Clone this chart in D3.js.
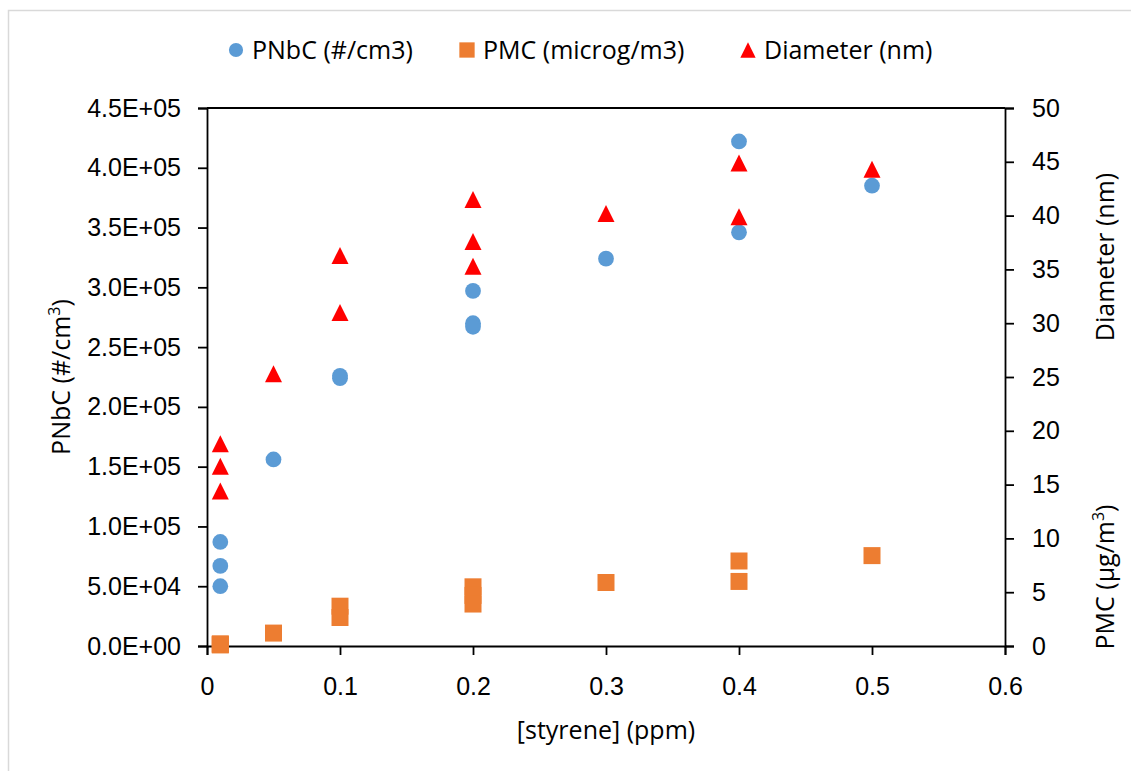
<!DOCTYPE html>
<html>
<head>
<meta charset="utf-8">
<script src="https://cdn.jsdelivr.net/npm/d3@7"></script>
<style>
  body { margin: 0; background: #fff; }
  svg { font-family: "Open Sans", Lato, sans-serif; }
</style>
</head>
<body>
<svg id="chart"></svg>
<script>
// styrene concentration (ppm) for each measurement
const pnbcX = [0.01, 0.01, 0.01, 0.05, 0.1, 0.1, 0.2, 0.2, 0.2, 0.3, 0.4, 0.4, 0.5];
const pnbcY = [8.7e4, 6.7e4, 5.0e4, 1.56e5, 2.26e5, 2.24e5, 2.97e5, 2.70e5, 2.67e5, 3.24e5, 4.22e5, 3.46e5, 3.85e5];

const pmcX = [0.01, 0.01, 0.01, 0.05, 0.1, 0.1, 0.2, 0.2, 0.2, 0.3, 0.4, 0.4, 0.5];
const pmcY = [0.2, 0.1, 0.15, 1.2, 3.7, 2.65, 5.5, 4.7, 3.9, 5.9, 7.9, 6.0, 8.4];

const diamX = [0.01, 0.01, 0.01, 0.05, 0.1, 0.1, 0.2, 0.2, 0.2, 0.3, 0.4, 0.4, 0.5];
const diamY = [18.8, 16.7, 14.4, 25.3, 36.3, 31.0, 41.5, 37.6, 35.3, 40.2, 44.9, 39.9, 44.3];

const xTicks = [0, 0.1, 0.2, 0.3, 0.4, 0.5, 0.6];
const leftTicks = [0, 5e4, 1e5, 1.5e5, 2e5, 2.5e5, 3e5, 3.5e5, 4e5, 4.5e5];
const rightTicks = [0, 5, 10, 15, 20, 25, 30, 35, 40, 45, 50];

const legendNames = ["PNbC (#/cm3)", "PMC (microg/m3)", "Diameter (nm)"];

const drawGraph = (selector) => {
  const width = 1131;
  const height = 771;
  const plot = { left: 207, right: 1005, top: 108, bottom: 646 };
  const fontSize = 25;

  const svg = d3.select(selector).attr("width", width).attr("height", height);

  // outer chart border
  svg
    .append("rect")
    .attr("x", 8.5)
    .attr("y", 10.5)
    .attr("width", 1200)
    .attr("height", 900)
    .attr("fill", "#fff")
    .attr("stroke", "#d9d9d9")
    .attr("stroke-width", 1.5);

  const xScale = d3.scaleLinear().domain([0, 0.6]).range([plot.left, plot.right]);
  const yLeft = d3.scaleLinear().domain([0, 4.5e5]).range([plot.bottom, plot.top]);
  const yRight = d3.scaleLinear().domain([0, 50]).range([plot.bottom, plot.top]);

  const sci = (v) => {
    const [m, e] = v.toExponential(1).split("e");
    return m + "E" + e[0] + e.slice(1).padStart(2, "0");
  };

  const xAxis = d3
    .axisBottom(xScale)
    .tickValues(xTicks)
    .tickSize(9)
    .tickPadding(22)
    .tickFormat((d) => (d === 0 ? "0" : d3.format(".1f")(d)));
  const leftAxis = d3.axisLeft(yLeft).tickValues(leftTicks).tickSize(9).tickPadding(17).tickFormat(sci);
  const rightAxis = d3.axisRight(yRight).tickValues(rightTicks).tickSize(9).tickPadding(18);

  const styleAxis = (g) => {
    g.selectAll("path, line").attr("stroke", "#000").attr("stroke-width", 1.8);
    g.selectAll("text").attr("font-size", fontSize).attr("fill", "#000").attr("font-family", null);
  };

  // top border of plot area
  svg
    .append("line")
    .attr("x1", plot.left)
    .attr("x2", plot.right)
    .attr("y1", plot.top)
    .attr("y2", plot.top)
    .attr("stroke", "#000")
    .attr("stroke-width", 1.8);

  svg.append("g").attr("transform", `translate(0, ${plot.bottom})`).call(xAxis).call(styleAxis);
  svg.append("g").attr("transform", `translate(${plot.left}, 0)`).call(leftAxis).call(styleAxis);
  svg.append("g").attr("transform", `translate(${plot.right}, 0)`).call(rightAxis).call(styleAxis);

  const circle = d3.symbol().type(d3.symbolCircle).size(195);
  const square = d3.symbol().type(d3.symbolSquare).size(289);
  const triSize = 17;
  const triangle = `M0,${-triSize / 2}L${triSize / 2},${triSize / 2}L${-triSize / 2},${triSize / 2}Z`;

  svg
    .append("g")
    .selectAll("path")
    .data(d3.zip(pnbcX, pnbcY))
    .join("path")
    .attr("d", circle)
    .attr("fill", "#5b9bd5")
    .attr("transform", (d) => `translate(${xScale(d[0])}, ${yLeft(d[1])})`);

  svg
    .append("g")
    .selectAll("path")
    .data(d3.zip(pmcX, pmcY))
    .join("path")
    .attr("d", square)
    .attr("fill", "#ed7d31")
    .attr("transform", (d) => `translate(${xScale(d[0])}, ${yRight(d[1])})`);

  svg
    .append("g")
    .selectAll("path")
    .data(d3.zip(diamX, diamY))
    .join("path")
    .attr("d", triangle)
    .attr("fill", "#ff0000")
    .attr("transform", (d) => `translate(${xScale(d[0])}, ${yRight(d[1])})`);

  // legend
  const legendX = [236, 467, 748];
  const legendShapes = [circle(), square(), triangle];
  const legendColors = ["#5b9bd5", "#ed7d31", "#ff0000"];
  const legend = svg.append("g").attr("transform", "translate(0, 50)");
  legendNames.forEach((name, i) => {
    legend
      .append("path")
      .attr("d", legendShapes[i])
      .attr("fill", legendColors[i])
      .attr("transform", `translate(${legendX[i]}, 0) scale(0.9)`);
    legend
      .append("text")
      .attr("x", legendX[i] + 16)
      .attr("dy", "0.35em")
      .attr("font-size", fontSize)
      .text(name);
  });

  // axis titles
  svg
    .append("text")
    .attr("x", (plot.left + plot.right) / 2)
    .attr("y", 739)
    .attr("text-anchor", "middle")
    .attr("font-size", fontSize)
    .text("[styrene] (ppm)");

  const leftTitle = svg
    .append("text")
    .attr("transform", `translate(70, ${(plot.top + plot.bottom) / 2}) rotate(-90)`)
    .attr("text-anchor", "middle")
    .attr("font-size", fontSize);
  leftTitle.append("tspan").text("PNbC (#/cm");
  leftTitle.append("tspan").attr("font-size", 16).attr("dy", -10).text("3");
  leftTitle.append("tspan").attr("dy", 10).text(")");

  svg
    .append("text")
    .attr("transform", "translate(1114, 257) rotate(-90)")
    .attr("text-anchor", "middle")
    .attr("font-size", fontSize)
    .text("Diameter (nm)");

  const rightTitle = svg
    .append("text")
    .attr("transform", "translate(1114, 577) rotate(-90)")
    .attr("text-anchor", "middle")
    .attr("font-size", fontSize);
  rightTitle.append("tspan").text("PMC (µg/m");
  rightTitle.append("tspan").attr("font-size", 16).attr("dy", -10).text("3");
  rightTitle.append("tspan").attr("dy", 10).text(")");
};

drawGraph("#chart");
</script>
</body>
</html>
